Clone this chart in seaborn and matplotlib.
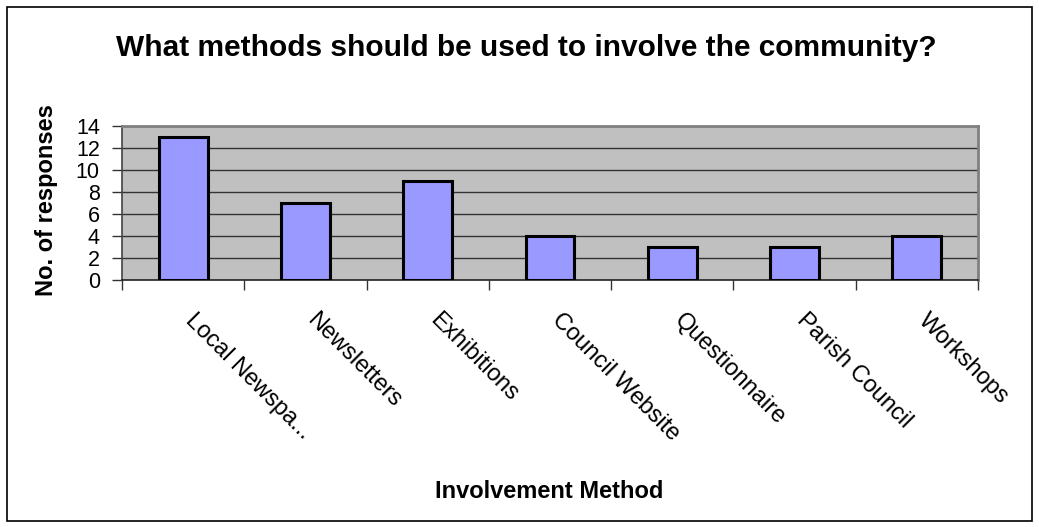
import matplotlib
matplotlib.use("Agg")
import matplotlib.pyplot as plt
import matplotlib.transforms as mtransforms
import seaborn as sns
import pandas as pd
from matplotlib.patches import Rectangle

# -----------------------------
# Data
# -----------------------------
methods = ["Local Newspa...", "Newsletters", "Exhibitions", "Council Website",
           "Questionnaire", "Parish Council", "Workshops"]
responses = [13, 7, 9, 4, 3, 3, 4]

df = pd.DataFrame({"method": methods, "responses": responses})

sns.set_style("white")
plt.rcParams["font.family"] = ["Liberation Sans", "DejaVu Sans"]
plt.rcParams.update({"text.color": "black", "axes.labelcolor": "black",
                     "xtick.color": "black", "ytick.color": "black"})

W, H = 1039, 527
fig = plt.figure(figsize=(W / 100, H / 100), dpi=100)
ax = fig.add_axes([122 / W, 1 - 280 / H, (978 - 122) / W, (280 - 126) / H])

ax.set_facecolor("#C0C0C0")
sns.barplot(data=df, x="method", y="responses", color="#9999FF",
            edgecolor="black", linewidth=2.2, width=0.4, saturation=1, ax=ax, zorder=3)

ax.set_ylim(0, 14)
ax.set_xlim(-0.5, len(methods) - 0.5)
ax.set_yticks(range(0, 15, 2))
for y in range(2, 14, 2):
    ax.axhline(y, color="#333333", linewidth=1.0, zorder=1)

# x ticks sit between categories
ax.set_xticks([i - 0.5 for i in range(len(methods) + 1)], minor=True)
ax.tick_params(axis="x", which="minor", length=7, width=1, color="#333333", direction="out")
ax.tick_params(axis="x", which="major", length=0, pad=21)
ax.tick_params(axis="y", length=7, width=1, color="#333333", direction="out",
               labelsize=15.5, pad=9)
ax.xaxis.set_ticks_position("bottom")
ax.yaxis.set_ticks_position("left")

ax.set_xticks(range(len(methods)))
ax.set_xticklabels(methods, rotation=-45, ha="left", va="top",
                   rotation_mode="anchor", fontsize=17)
shift = mtransforms.ScaledTranslation(13 / 100, 0, fig.dpi_scale_trans)
for lbl in ax.get_xticklabels():
    lbl.set_transform(lbl.get_transform() + shift)

for side in ["top", "right"]:
    ax.spines[side].set_color("#808080")
    ax.spines[side].set_linewidth(2)
ax.spines["left"].set_color("#444444")
ax.spines["left"].set_linewidth(1.2)
ax.spines["bottom"].set_color("#222222")
ax.spines["bottom"].set_linewidth(1.2)

ax.set_xlabel("")
ax.set_ylabel("")

fig.text(526 / W, 1 - 48 / H, "What methods should be used to involve the community?",
         ha="center", va="center", fontsize=21.5, fontweight="bold")
fig.text(47 / W, 1 - 200 / H, "No. of responses", ha="center", va="center",
         rotation=90, fontsize=17, fontweight="bold")
fig.text(549 / W, 1 - 491 / H, "Involvement Method", ha="center", va="center",
         fontsize=17, fontweight="bold")

# chart border
fig.patches.append(Rectangle((7 / W, 6 / H), 1 - 14 / W, 1 - 13 / H,
                             transform=fig.transFigure, fill=False,
                             edgecolor="black", linewidth=1.2))

fig.savefig("out.png", dpi=100)
plt.close(fig)
